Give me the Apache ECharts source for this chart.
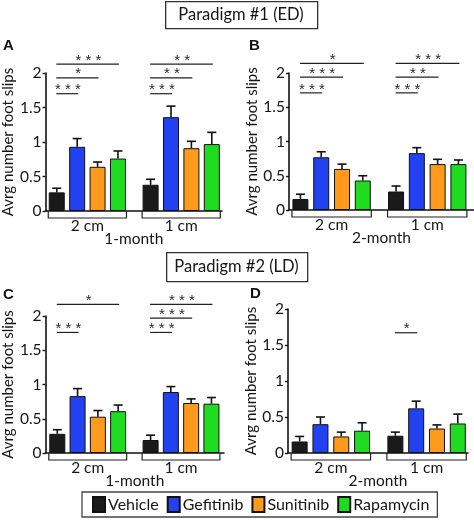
<!DOCTYPE html>
<html><head><meta charset="utf-8">
<script src="https://cdn.jsdelivr.net/npm/echarts@6/dist/echarts.min.js"></script>
<style>html,body{margin:0;padding:0;background:#fff}#c{width:474px;height:522px}</style>
</head><body><div id="c"></div>
<script>
// ---------- data ----------
const treatments = ['Vehicle', 'Gefitinib', 'Sunitinib', 'Rapamycin'];
const groups = ['2 cm', '1 cm'];
const yTicks = [0, 0.5, 1, 1.5, 2];
const ageLabels = ['1-month', '2-month', '1-month', '2-month'];
const panelLetters = ['A', 'B', 'C', 'D'];
const paradigms = ['Paradigm #1 (ED)', 'Paradigm #2 (LD)'];
const yTitle = 'Avrg number foot slips';

// means per group [2 cm, 1 cm], treatments in order
const A_mean = [[0.27, 0.93, 0.64, 0.76], [0.38, 1.36, 0.91, 0.97]];
const A_sem  = [[0.06, 0.12, 0.07, 0.11], [0.08, 0.16, 0.10, 0.17]];
const B_mean = [[0.16, 0.77, 0.60, 0.43], [0.27, 0.83, 0.67, 0.67]];
const B_sem  = [[0.07, 0.08, 0.07, 0.07], [0.08, 0.08, 0.07, 0.06]];
const C_mean = [[0.28, 0.83, 0.53, 0.61], [0.19, 0.89, 0.73, 0.72]];
const C_sem  = [[0.06, 0.11, 0.09, 0.09], [0.07, 0.08, 0.06, 0.09]];
const D_mean = [[0.16, 0.40, 0.23, 0.31], [0.24, 0.62, 0.34, 0.41]];
const D_sem  = [[0.07, 0.10, 0.06, 0.11], [0.05, 0.10, 0.05, 0.13]];

// significance: [group, compared treatment, level, stars]
const A_sig = [[0, 3, 2.13, '***'], [0, 2, 1.93, '*'], [0, 1, 1.70, '***'],
               [1, 3, 2.13, '**'], [1, 2, 1.93, '**'], [1, 1, 1.70, '***']];
const B_sig = [[0, 3, 2.14, '*'], [0, 2, 1.94, '***'], [0, 1, 1.71, '***'],
               [1, 3, 2.14, '***'], [1, 2, 1.94, '**'], [1, 1, 1.71, '***']];
const C_sig = [[0, 3, 2.17, '*'], [0, 1, 1.76, '***'],
               [1, 3, 2.17, '***'], [1, 2, 1.97, '***'], [1, 1, 1.76, '***']];
const D_sig = [[1, 1, 1.67, '*']];

// ---------- style / layout ----------
const colors = ['#1a1a1a', '#2242f2', '#ff9a1c', '#20dc20'];
const FONT = 'Lato, "Liberation Sans", sans-serif';
const TXT = '#151515';
const GROUP_STEP = 4.6;
const BAR_W = 16;
const xPos = (g, t) => g * GROUP_STEP + t;

const panels = [
  { mean: A_mean, sem: A_sem, sig: A_sig, grid: { left: 42, top: 73, width: 180, height: 138 }, xMin: -0.55, xMax: 8.1 },
  { mean: B_mean, sem: B_sem, sig: B_sig, grid: { left: 289, top: 73, width: 185, height: 137 }, xMin: -0.55, xMax: 8.35 },
  { mean: C_mean, sem: C_sem, sig: C_sig, grid: { left: 41, top: 316, width: 183, height: 137 }, xMin: -0.58, xMax: 8.22 },
  { mean: D_mean, sem: D_sem, sig: D_sig, grid: { left: 288, top: 309, width: 180, height: 144 }, xMin: -0.56, xMax: 8.09 }
];

const grid = [], xAxis = [], yAxis = [], series = [];

panels.forEach((p, pi) => {
  grid.push(Object.assign({ containLabel: false }, p.grid));
  xAxis.push({
    type: 'value', gridIndex: pi, min: p.xMin, max: p.xMax,
    axisLine: { show: true, onZero: false, lineStyle: { color: '#111', width: 1.6 } },
    axisTick: { show: false }, axisLabel: { show: false }, splitLine: { show: false },
    name: ageLabels[pi], nameLocation: 'middle', nameGap: 20,
    nameTextStyle: { fontSize: 15.5, color: TXT, fontFamily: FONT }
  });
  yAxis.push({
    type: 'value', gridIndex: pi, min: yTicks[0], max: yTicks[yTicks.length - 1],
    interval: yTicks[1] - yTicks[0],
    axisLine: { show: true, onZero: false, lineStyle: { color: '#111', width: 1.6 } },
    axisTick: { show: true, length: 3, lineStyle: { color: '#111', width: 1.4 } },
    axisLabel: { fontSize: 15.5, color: TXT, margin: 4, fontFamily: FONT },
    splitLine: { show: false },
    name: yTitle, nameLocation: 'middle', nameRotate: 90, nameGap: 27,
    nameTextStyle: { fontSize: 15, color: TXT, fontFamily: FONT }
  });

  // bars
  treatments.forEach((t, ti) => {
    series.push({
      type: 'bar', name: t, xAxisIndex: pi, yAxisIndex: pi,
      barWidth: BAR_W, barGap: '-100%',
      itemStyle: { color: colors[ti], borderColor: '#111', borderWidth: 1 },
      data: groups.map((g, gi) => [xPos(gi, ti), p.mean[gi][ti]]),
      animation: false, z: 2
    });
  });

  // error bars
  const errData = [];
  groups.forEach((g, gi) => treatments.forEach((t, ti) => {
    errData.push([xPos(gi, ti), p.mean[gi][ti], p.mean[gi][ti] + p.sem[gi][ti]]);
  }));
  series.push({
    type: 'custom', xAxisIndex: pi, yAxisIndex: pi, z: 3, animation: false,
    encode: { x: 0, y: [1, 2] }, silent: true,
    data: errData,
    renderItem: (params, api) => {
      const a = api.coord([api.value(0), api.value(1)]);
      const b = api.coord([api.value(0), api.value(2)]);
      const st = { stroke: '#111', lineWidth: 1.6 };
      return { type: 'group', children: [
        { type: 'line', shape: { x1: a[0], y1: a[1], x2: b[0], y2: b[1] }, style: st },
        { type: 'line', shape: { x1: b[0] - 4.5, y1: b[1], x2: b[0] + 4.5, y2: b[1] }, style: st }
      ] };
    }
  });

  // significance lines
  const sig = p.sig;
  series.push({
    type: 'custom', xAxisIndex: pi, yAxisIndex: pi, z: 4, animation: false, silent: true,
    encode: { x: [0, 1], y: 2 },
    data: sig.map(s => [xPos(s[0], 0), xPos(s[0], s[1]), s[2]]),
    renderItem: (params, api) => {
      const a = api.coord([api.value(0), api.value(2)]);
      const b = api.coord([api.value(1), api.value(2)]);
      const stars = sig[params.dataIndex][3].split('').join(' ');
      return { type: 'group', children: [
        { type: 'line', shape: { x1: a[0] - 0.5, y1: a[1], x2: b[0] + 1, y2: b[1] }, style: { stroke: '#222', lineWidth: 1.2 } },
        { type: 'text', x: (a[0] + b[0]) / 2 + 1, y: a[1] - 3.5,
          style: { text: stars, fontSize: 15, fill: '#2a2a2a', fontFamily: '"Liberation Sans", sans-serif', align: 'center', verticalAlign: 'middle' } }
      ] };
    }
  });

  // group brackets + labels
  series.push({
    type: 'custom', xAxisIndex: pi, yAxisIndex: pi, z: 1, animation: false, silent: true,
    encode: { x: [0, 1], y: 2 },
    data: groups.map((g, gi) => [xPos(gi, 0), xPos(gi, treatments.length - 1), 0]),
    renderItem: (params, api) => {
      const a = api.coord([api.value(0), api.value(2)]);
      const b = api.coord([api.value(1), api.value(2)]);
      const h = BAR_W / 2 + 0.5;
      return { type: 'group', children: [
        { type: 'polyline', shape: { points: [[a[0] - h, a[1]], [a[0] - h, a[1] + 7], [b[0] + h, a[1] + 7], [b[0] + h, a[1]]] },
          style: { stroke: '#222', lineWidth: 1.2, fill: null } },
        { type: 'text', x: (a[0] + b[0]) / 2, y: a[1] + 15,
          style: { text: groups[params.dataIndex], fontSize: 15.5, fill: TXT, fontFamily: FONT, align: 'center', verticalAlign: 'middle' } }
      ] };
    }
  });
});

const letterPos = [[3, 38], [249, 38], [3, 287], [250, 286]];
const graphic = [];
panelLetters.forEach((l, i) => graphic.push({
  type: 'text', left: letterPos[i][0], top: letterPos[i][1],
  style: { text: l, fontSize: 15, fontWeight: 'bold', fill: '#111', fontFamily: '"Liberation Sans", Arial, sans-serif' }
}));
const boxPos = [[165, 1, 152, 27], [166, 252, 141, 29]];
paradigms.forEach((t, i) => {
  const [x, y, w, h] = boxPos[i];
  graphic.push({ type: 'rect', left: x, top: y, shape: { width: w, height: h },
    style: { fill: '#fff', stroke: '#333', lineWidth: 1.3 } });
  graphic.push({ type: 'text', x: x + w / 2, y: y + h / 2 + 0.5,
    style: { text: t, fontSize: 16.5, fill: TXT, fontFamily: FONT, align: 'center', verticalAlign: 'middle' } });
});

const chart = echarts.init(document.getElementById('c'), null, { renderer: 'canvas' });
chart.setOption({
  animation: false,
  backgroundColor: '#fff',
  grid, xAxis, yAxis, series, graphic,
  legend: {
    data: treatments, left: 82, top: 492, icon: 'rect',
    itemWidth: 12, itemHeight: 15, itemGap: 8,
    padding: [4, 8, 4, 10],
    borderColor: '#444', borderWidth: 1.3,
    textStyle: { fontSize: 16, color: TXT, fontFamily: FONT, padding: [0, 0, 0, -2] },
    selectedMode: false
  }
});
</script>
</body></html>
